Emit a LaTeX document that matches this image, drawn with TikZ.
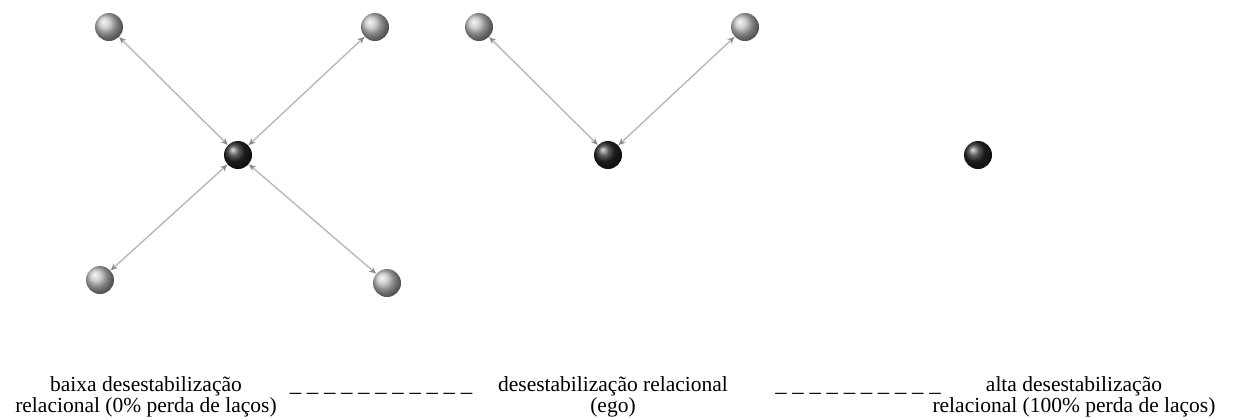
\documentclass[tikz,border=0pt]{standalone}
\usepackage{fontspec}
\setmainfont{Liberation Serif}
\usetikzlibrary{arrows.meta}

\begin{document}
\begin{tikzpicture}[x=0.5pt,y=-0.5pt,
  alter/.style={circle,inner sep=0pt,minimum size=14pt,shading=ball,ball color=gray!50},
  ego/.style={circle,inner sep=0pt,minimum size=14pt,shading=ball,ball color=black!85},
  tie/.style={{Stealth[length=3.5pt,width=3pt,color=black!45]}-{Stealth[length=3.5pt,width=3pt,color=black!45]},line width=0.7pt,draw=black!28},
  caption/.style={align=center,inner sep=0pt,anchor=north,font=\fontsize{10.75}{10.5}\selectfont},
  gap/.style={inner sep=0pt,anchor=base,font=\fontsize{11.4}{11}\selectfont}]
\useasboundingbox (0,0) rectangle (1233,419);
% Low destabilisation: ego with four ties
\node[ego] (e1) at (238,155) {};
\node[alter] (a1) at (109,27) {};
\node[alter] (b1) at (375,27) {};
\node[alter] (c1) at (100,280) {};
\node[alter] (d1) at (387,283) {};
\draw[tie] (e1) -- (a1);
\draw[tie] (e1) -- (b1);
\draw[tie] (e1) -- (c1);
\draw[tie] (e1) -- (d1);
% Ego with two ties left
\node[ego] (e2) at (608,155) {};
\node[alter] (a2) at (479,27) {};
\node[alter] (b2) at (745,27) {};
\draw[tie] (e2) -- (a2);
\draw[tie] (e2) -- (b2);
% High destabilisation: ego alone
\node[ego] (e3) at (978,155) {};
% Scale captions
\node[caption] (low) at (146,376) {baixa desestabilização\\relacional (0\% perda de laços)};
\node[caption] (mid) at (613,376) {desestabilização relacional\\(ego)};
\node[caption] (high) at (1074,376) {alta desestabilização\\relacional (100\% perda de laços)};
\node[gap] (g1) at (381,391) {\_ \_ \_ \_ \_ \_ \_ \_ \_ \_ \_};
\node[gap] (g2) at (858,391) {\_ \_ \_ \_ \_ \_ \_ \_ \_ \_};
\end{tikzpicture}
\end{document}
